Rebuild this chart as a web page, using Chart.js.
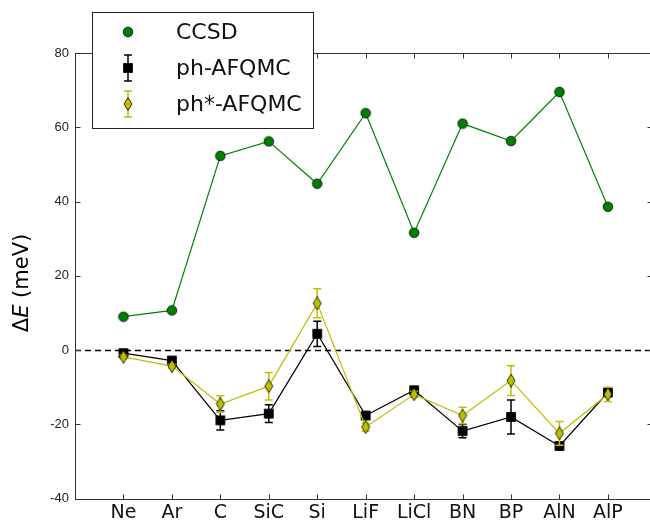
<!DOCTYPE html>
<html>
<head>
<meta charset="utf-8">
<script src="https://cdn.jsdelivr.net/npm/chart.js@4.4.1/dist/chart.umd.min.js"></script>
<style>
  html, body { margin: 0; padding: 0; background: #fff; overflow: hidden; }
  #wrap { width: 660px; height: 523px; }
</style>
</head>
<body>
<div id="wrap"><canvas id="graph" width="660" height="523"></canvas></div>
<script>
// systems on the x axis
const systems = ["Ne", "Ar", "C", "SiC", "Si", "LiF", "LiCl", "BN", "BP", "AlN", "AlP"];

// Delta E in meV
const ccsd = [9.0, 10.7, 52.3, 56.2, 44.8, 63.8, 31.6, 61.0, 56.3, 69.5, 38.6];
const phAfqmc = [-0.8, -2.8, -18.9, -17.1, 4.4, -17.6, -10.8, -21.8, -18.0, -25.8, -11.4];
const phAfqmcErr = [0.5, 0.5, 2.6, 2.4, 3.4, 0.6, 0.6, 1.8, 4.6, 0.8, 0.9];
const phStar = [-1.8, -4.3, -14.5, -9.7, 12.6, -20.7, -11.9, -17.6, -8.2, -22.4, -11.9];
const phStarErr = [0.5, 0.5, 2.2, 3.7, 3.9, 1.1, 0.8, 2.2, 4.0, 3.2, 1.9];

const yTicks = [-40, -20, 0, 20, 40, 60, 80];

const GREEN = "#008000";
const YELLOW = "#bfbf00";

function markerCanvas(kind, fill) {
	let c = document.createElement("canvas");
	let w = 12, h = 12;
	if (kind == "diamond") { w = 10; h = 14; }
	c.width = w; c.height = h;
	let g = c.getContext("2d");
	g.fillStyle = fill;
	g.strokeStyle = "#000";
	g.lineWidth = 0.8;
	g.beginPath();
	if (kind == "circle") {
		g.arc(w / 2, h / 2, 4.8, 0, Math.PI * 2);
	} else if (kind == "square") {
		g.rect(1.5, 1.5, 9, 9);
	} else {
		g.moveTo(w / 2, 0.5);
		g.lineTo(w - 1, h / 2);
		g.lineTo(w / 2, h - 0.5);
		g.lineTo(1, h / 2);
		g.closePath();
	}
	g.fill();
	g.stroke();
	return c;
}

const circleImg = markerCanvas("circle", GREEN);
const squareImg = markerCanvas("square", "#000");
const diamondImg = markerCanvas("diamond", YELLOW);

function toPoints(values) {
	return values.map((v, i) => ({x: i, y: v}));
}

const errors = {1: phAfqmcErr, 2: phStarErr};

function drawErrBar(ctx, x, yTop, yBot, color) {
	ctx.save();
	ctx.strokeStyle = color;
	ctx.lineWidth = 1.5;
	ctx.beginPath();
	ctx.moveTo(x, yTop); ctx.lineTo(x, yBot);
	ctx.moveTo(x - 4, yTop); ctx.lineTo(x + 4, yTop);
	ctx.moveTo(x - 4, yBot); ctx.lineTo(x + 4, yBot);
	ctx.stroke();
	ctx.restore();
}

const errorBars = {
	id: "errorBars",
	beforeDatasetDraw(chart, args) {
		let err = errors[args.index];
		if (!err) return;
		let ds = chart.data.datasets[args.index];
		let xs = chart.scales.x, ys = chart.scales.y;
		for (let i = 0; i < ds.data.length; i++) {
			let p = ds.data[i];
			let px = xs.getPixelForValue(p.x);
			drawErrBar(chart.ctx, px, ys.getPixelForValue(p.y + err[i]), ys.getPixelForValue(p.y - err[i]), ds.borderColor);
		}
	}
};

const frame = {
	id: "frame",
	beforeDatasetsDraw(chart) {
		let ctx = chart.ctx, a = chart.chartArea, ys = chart.scales.y;
		let y0 = Math.round(ys.getPixelForValue(0)) + 0.5;
		ctx.save();
		ctx.strokeStyle = "#000";
		ctx.lineWidth = 1.3;
		ctx.setLineDash([6, 4]);
		ctx.beginPath();
		ctx.moveTo(a.left, y0); ctx.lineTo(a.right, y0);
		ctx.stroke();
		ctx.restore();
	},
	afterDatasetsDraw(chart) {
		let ctx = chart.ctx, a = chart.chartArea;
		let xs = chart.scales.x, ys = chart.scales.y;
		let l = Math.round(a.left) + 0.5, r = Math.round(a.right) + 0.5;
		let t = Math.round(a.top) + 0.5, b = Math.round(a.bottom) + 0.5;
		ctx.save();
		ctx.strokeStyle = "#333";
		ctx.lineWidth = 1;
		ctx.strokeRect(l, t, r - l, b - t);
		ctx.beginPath();
		for (let tk of ys.ticks) {
			let y = Math.round(ys.getPixelForValue(tk.value)) + 0.5;
			ctx.moveTo(l, y); ctx.lineTo(l + 5, y);
			ctx.moveTo(r, y); ctx.lineTo(r - 5, y);
		}
		for (let tk of xs.ticks) {
			let x = Math.round(xs.getPixelForValue(tk.value)) + 0.5;
			ctx.moveTo(x, b); ctx.lineTo(x, b - 5);
			ctx.moveTo(x, t); ctx.lineTo(x, t + 5);
		}
		ctx.stroke();
		ctx.restore();
	},
	afterDraw(chart) {
		let ctx = chart.ctx;
		// y axis title: Delta E (meV), E in italics
		ctx.save();
		ctx.translate(23, 283);
		ctx.rotate(-Math.PI / 2);
		ctx.fillStyle = "#000";
		ctx.textBaseline = "middle";
		let normal = "21px 'DejaVu Sans'", italic = "italic 21px 'DejaVu Sans'";
		let parts = [["\u0394", normal], ["E", italic], [" (meV)", normal]];
		let total = 0;
		for (let p of parts) { ctx.font = p[1]; total += ctx.measureText(p[0]).width; }
		let x = -total / 2;
		for (let p of parts) {
			ctx.font = p[1];
			ctx.fillText(p[0], x, 0);
			x += ctx.measureText(p[0]).width;
		}
		ctx.restore();

		// legend box
		ctx.save();
		ctx.fillStyle = "#fff";
		ctx.strokeStyle = "#222";
		ctx.lineWidth = 1;
		ctx.fillRect(92.5, 12.5, 221, 116);
		ctx.strokeRect(92.5, 12.5, 221, 116);
		let mx = 128;
		let rows = [32, 68, 104];
		drawErrBar(ctx, mx, rows[1] - 13, rows[1] + 13, "#000");
		drawErrBar(ctx, mx, rows[2] - 13, rows[2] + 13, YELLOW);
		ctx.drawImage(circleImg, mx - circleImg.width / 2, rows[0] - circleImg.height / 2);
		ctx.drawImage(squareImg, mx - squareImg.width / 2, rows[1] - squareImg.height / 2);
		ctx.drawImage(diamondImg, mx - diamondImg.width / 2, rows[2] - diamondImg.height / 2);
		ctx.fillStyle = "#111";
		ctx.font = "22px 'DejaVu Sans'";
		ctx.textBaseline = "middle";
		let names = ["CCSD", "ph-AFQMC", "ph*-AFQMC"];
		for (let i = 0; i < 3; i++) ctx.fillText(names[i], 176, rows[i] + 1);
		ctx.restore();
	}
};

new Chart(document.getElementById("graph").getContext("2d"), {
	type: "line",
	data: {
		datasets: [{
			label: "CCSD",
			data: toPoints(ccsd),
			borderColor: GREEN,
			borderWidth: 1.2,
			pointStyle: circleImg,
			order: 3
		}, {
			label: "ph-AFQMC",
			data: toPoints(phAfqmc),
			borderColor: "#000",
			borderWidth: 1.2,
			pointStyle: squareImg,
			order: 2
		}, {
			label: "ph*-AFQMC",
			data: toPoints(phStar),
			borderColor: YELLOW,
			borderWidth: 1.2,
			pointStyle: diamondImg,
			order: 1
		}]
	},
	options: {
		responsive: false,
		animation: false,
		devicePixelRatio: 1,
		layout: {padding: {top: 53, right: 8.5, left: 0, bottom: 0}},
		elements: {line: {tension: 0, fill: false}},
		plugins: {legend: {display: false}, tooltip: {enabled: false}},
		scales: {
			x: {
				type: "linear",
				min: -1,
				max: 10.9,
				grid: {display: false, drawTicks: false},
				border: {display: false},
				afterBuildTicks: (s) => { s.ticks = systems.map((c, i) => ({value: i})); },
				afterFit: (s) => { s.height = 24.3; },
				ticks: {
					autoSkip: false,
					maxRotation: 0,
					padding: 3,
					color: "#111",
					font: {family: "'DejaVu Sans'", size: 19},
					callback: (v) => systems[v] ?? ""
				}
			},
			y: {
				min: -40,
				max: 80,
				grid: {display: false, drawTicks: false},
				border: {display: false},
				afterBuildTicks: (s) => { s.ticks = yTicks.map(v => ({value: v})); },
				afterFit: (s) => { s.width = 75; },
				ticks: {
					padding: 6,
					color: "#222",
					font: {family: "'Liberation Sans'", size: 13}
				}
			}
		}
	},
	plugins: [errorBars, frame]
});
</script>
</body>
</html>
